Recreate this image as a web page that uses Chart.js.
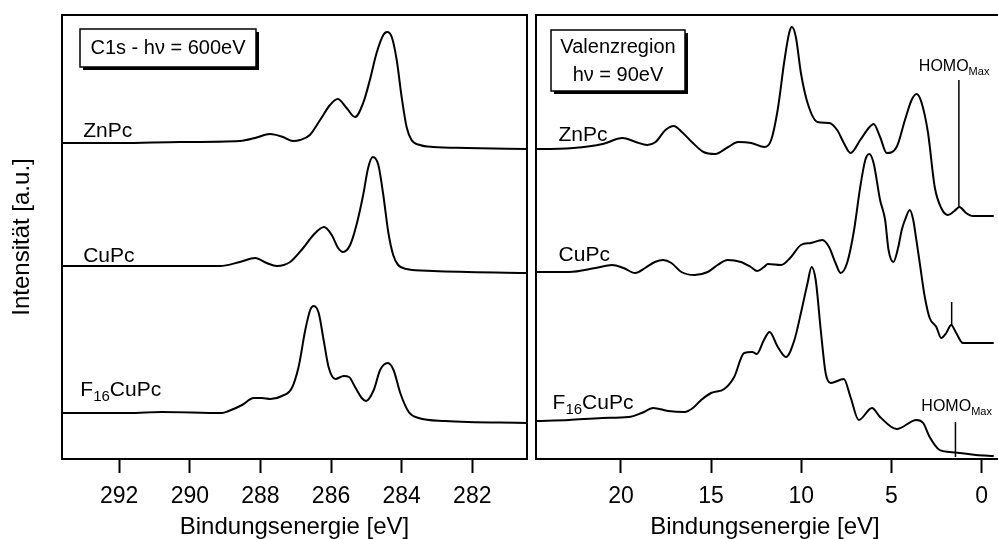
<!DOCTYPE html>
<html>
<head>
<meta charset="utf-8">
<script src="https://cdn.jsdelivr.net/npm/chart.js@4.4.1/dist/chart.umd.min.js"></script>
<style>
  html, body { margin: 0; padding: 0; background: #fff; overflow: hidden; }
  #wrap { position: relative; width: 998px; height: 539px; }
  #c1s { position: absolute; left: 0; top: 0; }
  #valenz { position: absolute; left: 532px; top: 0; }
</style>
</head>
<body>
<div id="wrap">
  <canvas id="c1s" width="532" height="539"></canvas>
  <canvas id="valenz" width="466" height="539"></canvas>
</div>
<script>
// C1s spektren (Bindungsenergie eV / Intensität a.u., mit Versatz)
const c1sZnPcE = [293.62, 291.98, 290.28, 288.58, 288.15, 287.73, 287.36, 287.08, 286.88, 286.60, 286.31, 286.03, 285.81, 285.56, 285.32, 285.09, 284.90, 284.71, 284.52, 284.41, 284.28, 284.14, 284.00, 283.86, 283.72, 283.48, 283.11, 282.16, 280.45];
const c1sZnPcI = [316, 316, 317, 318, 321, 325, 322, 318, 319, 324, 339, 354, 360, 351, 342, 356, 379, 406, 424, 427, 422, 399, 362, 332, 319, 314, 312, 311, 310];

const c1sCuPcE = [293.62, 291.5, 289.71, 289.15, 288.58, 288.15, 287.82, 287.54, 287.16, 286.79, 286.50, 286.20, 285.98, 285.80, 285.66, 285.46, 285.28, 285.09, 284.95, 284.82, 284.66, 284.52, 284.38, 284.24, 284.10, 283.86, 283.11, 280.45];
const c1sCuPcI = [193, 193, 193, 193, 197, 201, 196, 193, 197, 211, 224, 232, 224, 211, 207, 214, 234, 264, 291, 302, 294, 264, 227, 204, 194, 190, 188, 186];

const c1sF16E = [293.62, 291.73, 290.79, 289.09, 288.90, 288.52, 288.19, 287.96, 287.72, 287.39, 287.11, 286.92, 286.73, 286.59, 286.49, 286.35, 286.21, 286.07, 285.88, 285.64, 285.49, 285.32, 285.13, 285.01, 284.79, 284.61, 284.39, 284.23, 284.04, 283.80, 283.52, 282.77, 280.45];
const c1sF16I = [46, 46, 47, 46, 48, 54, 61, 61, 60, 63, 71, 92, 129, 149, 153, 146, 119, 92, 80, 83, 82, 72, 61, 58, 69, 89, 96, 89, 66, 47, 41, 38, 36];

// Valenzregion
const vbZnPcE = [24.71, 24.49, 22.64, 21.01, 19.91, 19.18, 18.54, 18.08, 17.53, 17.07, 16.62, 16.07, 15.42, 14.78, 14.05, 13.50, 12.77, 12.04, 11.67, 11.31, 10.93, 10.66, 10.52, 10.30, 10.02, 9.65, 9.10, 8.46, 8.01, 7.64, 7.27, 6.73, 6.26, 5.99, 5.63, 5.26, 4.71, 4.25, 3.88, 3.61, 3.34, 2.97, 2.60, 2.24, 1.87, 1.51, 1.23, 0.86, 0.49, -0.68];
const vbZnPcI = [310, 310, 311, 315, 321, 317, 314, 317, 329, 333, 327, 317, 307, 305, 312, 317, 316, 312, 319, 349, 399, 427, 432, 422, 386, 356, 337, 336, 329, 316, 306, 319, 331, 335, 322, 306, 312, 339, 359, 365, 357, 326, 272, 251, 244, 248, 252, 246, 243, 243];

const vbCuPcE = [24.71, 22.88, 21.41, 20.49, 19.86, 19.21, 18.66, 18.12, 17.66, 17.20, 16.65, 15.92, 15.19, 14.64, 14.09, 13.35, 12.80, 12.44, 12.07, 11.85, 11.12, 10.57, 10.02, 9.47, 8.83, 8.46, 8.10, 7.82, 7.46, 7.09, 6.73, 6.45, 6.23, 5.99, 5.63, 5.35, 5.16, 4.89, 4.62, 4.43, 4.25, 3.98, 3.79, 3.70, 3.43, 3.15, 2.88, 2.51, 2.24, 1.96, 1.69, 1.41, 1.04, -0.68];
const vbCuPcI = [187, 187, 191, 194, 191, 186, 191, 197, 199, 196, 187, 184, 187, 194, 199, 197, 192, 188, 192, 195, 194, 202, 214, 216, 219, 212, 196, 186, 196, 227, 272, 299, 305, 296, 259, 239, 209, 197, 212, 229, 239, 249, 239, 229, 196, 162, 141, 132, 121, 126, 134, 126, 116, 116];

const vbF16E = [24.71, 22.88, 21.04, 19.58, 18.85, 18.21, 17.38, 16.47, 16.01, 15.55, 15.00, 14.27, 13.72, 13.17, 12.71, 12.47, 12.07, 11.76, 11.30, 10.85, 10.38, 10.02, 9.65, 9.43, 9.20, 8.92, 8.65, 8.37, 7.64, 7.27, 6.81, 6.08, 5.63, 4.71, 3.61, 3.24, 2.88, 2.33, 1.78, 1.23, 0.31, -0.68];
const vbF16I = [38, 39, 41, 42, 46, 51, 48, 47, 51, 59, 66, 70, 82, 106, 107, 105, 119, 127, 112, 102, 119, 146, 176, 192, 179, 129, 86, 76, 80, 62, 39, 51, 42, 30, 39, 36, 22, 9, 7, 6, 4, 3];

// HOMO-Max Markierungen: Energie, unteres und oberes Ende
const homoE = [1.26, 1.66, 1.45];
const homoLow = [252, 134, 2];
const homoHigh = [379, 157, 37];

const c1sTicks = [282, 284, 286, 288, 290, 292];
const vbTicks = [0, 5, 10, 15, 20];

const FONT = '"Liberation Sans", Arial, Helvetica, sans-serif';

const toXY = (xs, ys) => xs.map((x, i) => ({ x: x, y: ys[i] }));

const curve = (xs, ys) => ({
  data: toXY(xs, ys),
  showLine: true,
  borderColor: '#000',
  borderWidth: 2,
  pointRadius: 0,
  tension: 0.4,
  cubicInterpolationMode: 'monotone',
  fill: false
});

const marker = (i) => ({
  data: [{ x: homoE[i], y: homoLow[i] }, { x: homoE[i], y: homoHigh[i] }],
  showLine: true,
  borderColor: '#000',
  borderWidth: 1.5,
  pointRadius: 0,
  fill: false
});

function drawParts(ctx, x, y, parts, size) {
  let cx = x;
  ctx.textAlign = 'left';
  ctx.textBaseline = 'middle';
  parts.forEach(p => {
    const s = p.sub ? Math.round(size * 0.7) : size;
    ctx.font = s + 'px ' + FONT;
    ctx.fillText(p.t, cx, p.sub ? y + size * 0.32 : y);
    cx += ctx.measureText(p.t).width;
  });
}

// Rahmen, Textkästen und Beschriftungen
const framePlugin = {
  id: 'frame',
  afterDraw(chart, args, opts) {
    const { ctx, chartArea: a, scales } = chart;
    ctx.save();
    ctx.strokeStyle = '#000';
    ctx.lineWidth = 2;
    ctx.beginPath();
    if (opts.open) {
      ctx.moveTo(a.right + 5, a.top);
      ctx.lineTo(a.left, a.top);
      ctx.lineTo(a.left, a.bottom);
      ctx.lineTo(a.right + 5, a.bottom);
    } else {
      ctx.rect(a.left, a.top, a.right - a.left, a.bottom - a.top);
    }
    ctx.stroke();

    // Kasten mit Schatten
    const b = opts.box;
    const bx = a.left + b.dx, by = a.top + b.dy;
    ctx.fillStyle = '#000';
    ctx.fillRect(bx + 3, by + 3, b.w, b.h);
    ctx.fillStyle = '#fff';
    ctx.fillRect(bx, by, b.w, b.h);
    ctx.lineWidth = 1.5;
    ctx.strokeRect(bx, by, b.w, b.h);
    ctx.fillStyle = '#000';
    ctx.font = '20px ' + FONT;
    ctx.textAlign = 'center';
    ctx.textBaseline = 'middle';
    b.lines.forEach((t, i) => {
      ctx.fillText(t, bx + b.w / 2, by + b.lineY[i]);
    });

    // Probenbezeichnungen
    opts.labels.forEach(l => {
      const px = scales.x.getPixelForValue(l.x);
      const py = scales.y.getPixelForValue(l.y);
      drawParts(ctx, px, py, l.parts, l.size || 21);
    });
    ctx.restore();
  }
};

const xAxis = (min, max, step) => ({
  type: 'linear',
  reverse: true,
  min: min,
  max: max,
  afterFit: (s) => { s.height = 80; },
  border: { display: false },
  grid: {
    drawOnChartArea: false,
    drawTicks: true,
    tickLength: 14,
    tickWidth: 2,
    tickColor: '#000'
  },
  ticks: {
    stepSize: step,
    includeBounds: false,
    color: '#000',
    padding: 10,
    maxRotation: 0,
    font: { size: 23, family: FONT }
  },
  title: {
    display: true,
    text: 'Bindungsenergie [eV]',
    color: '#000',
    padding: { top: 0, bottom: 0 },
    font: { size: 24, family: FONT, lineHeight: 1 }
  }
});

new Chart(document.getElementById('c1s').getContext('2d'), {
  type: 'scatter',
  data: {
    datasets: [
      curve(c1sZnPcE, c1sZnPcI),
      curve(c1sCuPcE, c1sCuPcI),
      curve(c1sF16E, c1sF16I)
    ]
  },
  options: {
    responsive: false,
    animation: false,
    layout: { padding: { top: 15, right: 5, bottom: 0, left: 0 } },
    scales: {
      x: xAxis(280.45, 293.62, 2),
      y: {
        min: 0,
        max: 444,
        afterFit: (s) => { s.width = 62; },
        border: { display: false },
        grid: { display: false },
        ticks: { display: false },
        title: {
          display: true,
          text: 'Intensität [a.u.]',
          color: '#000',
          padding: { top: 8, bottom: 0 },
          font: { size: 24, family: FONT }
        }
      }
    },
    plugins: {
      legend: { display: false },
      tooltip: { enabled: false },
      frame: {
        open: false,
        box: { dx: 18, dy: 14, w: 176, h: 38, lines: ['C1s - hν = 600eV'], lineY: [19] },
        labels: [
          { x: 293.02, y: 328, parts: [{ t: 'ZnPc' }] },
          { x: 293.02, y: 203, parts: [{ t: 'CuPc' }] },
          { x: 293.1, y: 69, parts: [{ t: 'F' }, { t: '16', sub: true }, { t: 'CuPc' }] }
        ]
      }
    }
  },
  plugins: [framePlugin]
});

new Chart(document.getElementById('valenz').getContext('2d'), {
  type: 'scatter',
  data: {
    datasets: [
      curve(vbZnPcE, vbZnPcI),
      curve(vbCuPcE, vbCuPcI),
      curve(vbF16E, vbF16I),
      marker(0),
      marker(1),
      marker(2)
    ]
  },
  options: {
    responsive: false,
    animation: false,
    layout: { padding: { top: 15, right: 0, bottom: 0, left: 4 } },
    scales: {
      x: xAxis(-0.68, 24.71, 5),
      y: { display: false, min: 0, max: 444 }
    },
    plugins: {
      legend: { display: false },
      tooltip: { enabled: false },
      frame: {
        open: true,
        box: { dx: 15, dy: 15, w: 134, h: 61, lines: ['Valenzregion', 'hν = 90eV'], lineY: [17.7, 45] },
        labels: [
          { x: 23.46, y: 324, parts: [{ t: 'ZnPc' }] },
          { x: 23.46, y: 204, parts: [{ t: 'CuPc' }] },
          { x: 23.79, y: 56, parts: [{ t: 'F' }, { t: '16', sub: true }, { t: 'CuPc' }] },
          { x: 3.48, y: 392, size: 16, parts: [{ t: 'HOMO' }, { t: 'Max', sub: true }] },
          { x: 3.34, y: 52, size: 16, parts: [{ t: 'HOMO' }, { t: 'Max', sub: true }] }
        ]
      }
    }
  },
  plugins: [framePlugin]
});
</script>
</body>
</html>
